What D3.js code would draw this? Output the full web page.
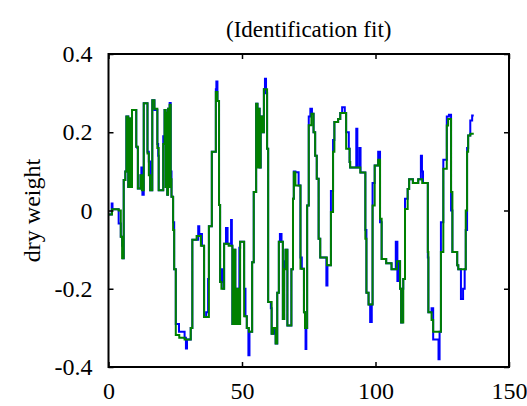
<!DOCTYPE html>
<html>
<head>
<meta charset="utf-8">
<script src="https://cdn.jsdelivr.net/npm/d3@7"></script>
<style>
  body { margin: 0; background: #fff; }
</style>
</head>
<body>
<svg id="chart" width="527" height="406"></svg>
<script>
// step breakpoints: [time, value], value holds until next time
var measured = [[0,-0.01],[1.2,0.018],[1.5,0.003],[3.8,-0.033],[4.6,-0.067],[5.1,-0.09],[5.4,-0.122],[5.7,0.078],[6.3,0.1],[6.7,0.24],[7.4,0.06],[7.8,0.235],[8.1,0.14],[8.5,0.08],[8.8,0.257],[10.4,0.163],[10.8,0.16],[11.0,0.056],[12.0,0.09],[12.3,0.11],[12.7,0.04],[13.2,0.274],[14.6,0.15],[15.1,0.125],[15.6,0.052],[16.4,0.282],[17.2,0.257],[18.3,0.17],[18.6,0.14],[18.8,0.052],[20.5,0.19],[21.0,0.257],[21.4,0.06],[21.7,0.25],[22.0,0.04],[22.3,0.26],[22.6,0.06],[22.9,0.275],[23.3,0.1],[23.6,0.035],[24.2,-0.03],[24.6,-0.15],[25.2,-0.29],[26.4,-0.31],[28.5,-0.325],[29.0,-0.353],[29.4,-0.33],[30.8,-0.30],[31.4,-0.075],[33.6,-0.04],[34.0,-0.065],[34.6,-0.06],[35.0,-0.09],[35.8,-0.272],[36.6,-0.26],[37.3,-0.175],[37.6,-0.04],[38.7,0.15],[40.2,0.31],[40.4,0.33],[40.8,0.28],[41.4,0.014],[41.8,-0.183],[42.3,-0.15],[43.0,-0.2],[43.3,-0.085],[44.0,-0.045],[44.6,-0.085],[45.9,-0.024],[46.2,-0.09],[46.4,-0.29],[47.0,-0.1],[47.5,-0.29],[48.0,-0.2],[48.6,-0.29],[49.0,-0.095],[49.3,-0.08],[50.8,-0.2],[51.3,-0.27],[51.8,-0.3],[52.4,-0.37],[52.8,-0.31],[53.8,-0.132],[54.4,0.047],[55.3,0.273],[55.8,0.23],[56.2,0.26],[56.6,0.11],[57.0,0.24],[57.5,0.2],[58.2,0.31],[58.6,0.337],[59.0,0.3],[59.4,0.158],[59.8,-0.234],[60.8,-0.25],[61.1,-0.315],[62.0,-0.3],[62.6,-0.34],[63.2,-0.21],[63.8,-0.08],[64.2,-0.06],[64.8,-0.08],[65.3,-0.277],[65.8,-0.13],[66.3,-0.1],[67.0,-0.294],[68.5,-0.15],[69.1,0.03],[69.4,0.1],[70.0,0.098],[71.2,0.064],[71.9,-0.12],[72.4,-0.149],[73.2,-0.26],[73.6,-0.3],[73.8,-0.354],[74.1,-0.3],[74.4,0.013],[75.0,0.24],[75.6,0.26],[76.2,0.247],[76.8,0.2],[77.4,0.14],[78.0,0.081],[78.7,-0.072],[79.3,-0.12],[81.6,-0.192],[82.0,-0.14],[83.3,0.05],[84.1,0.18],[84.6,0.226],[86.0,0.234],[86.8,0.249],[87.5,0.264],[88.5,0.249],[89.0,0.2],[90.0,0.158],[90.3,0.124],[90.5,0.11],[92.8,0.209],[93.2,0.11],[94.0,0.16],[94.4,0.097],[96.2,-0.05],[96.6,-0.21],[97.4,-0.24],[98.0,-0.285],[98.6,-0.24],[98.9,0.07],[99.7,0.115],[101.0,0.15],[101.7,-0.03],[102.3,-0.124],[104,-0.135],[106,-0.15],[107.6,-0.08],[108.2,-0.18],[108.7,-0.13],[109.2,-0.2],[109.6,-0.286],[110.1,-0.2],[110.4,-0.175],[111.05,0.03],[112.05,0.055],[112.6,0.08],[114,0.07],[116,0.08],[117,0.14],[117.4,0.1],[117.8,0.07],[119.6,-0.12],[119.8,-0.26],[121.0,-0.25],[121.6,-0.33],[123.6,-0.38],[124.0,-0.31],[124.5,-0.03],[125.4,0.13],[126.7,0.24],[127.5,0.245],[128.3,0.0],[128.8,-0.106],[130.6,-0.14],[131.0,-0.15],[132.0,-0.226],[132.8,-0.2],[133.4,-0.15],[133.8,-0.05],[134.3,0.16],[134.7,0.192],[135.5,0.23],[136.2,0.243],[136.8,0.243]];

var fitted = [[0,-0.01],[1.3,0.003],[3.8,0.0],[4.6,-0.067],[5.1,-0.122],[5.7,0.078],[6.3,0.1],[6.7,0.24],[7.4,0.06],[7.8,0.235],[8.2,0.06],[8.8,0.257],[10.4,0.163],[11.0,0.056],[12.0,0.09],[12.5,0.052],[13.2,0.274],[14.6,0.146],[15.1,0.09],[15.6,0.052],[16.4,0.282],[17.2,0.26],[18.3,0.16],[18.8,0.052],[20.5,0.17],[21.0,0.257],[21.4,0.06],[21.7,0.25],[22.0,0.04],[22.3,0.26],[22.6,0.06],[22.9,0.27],[23.3,0.08],[23.6,0.035],[24.2,-0.05],[24.6,-0.15],[25.2,-0.318],[26.5,-0.325],[28.5,-0.33],[30.8,-0.30],[31.4,-0.075],[33,-0.065],[34.6,-0.09],[35.8,-0.272],[37.6,-0.04],[38.7,0.15],[40.2,0.303],[40.8,0.28],[41.4,0.014],[41.8,-0.183],[42.3,-0.2],[43.3,-0.085],[45.0,-0.09],[46.4,-0.29],[47.0,-0.1],[47.5,-0.29],[48.0,-0.2],[48.6,-0.29],[49.3,-0.08],[50.8,-0.27],[51.8,-0.3],[52.6,-0.31],[53.8,-0.132],[54.4,0.047],[55.3,0.273],[55.8,0.11],[56.2,0.26],[56.6,0.11],[57.0,0.24],[57.5,0.2],[58.2,0.31],[59.4,0.158],[59.8,-0.234],[61.1,-0.315],[61.6,-0.3],[62.6,-0.34],[63.2,-0.21],[63.8,-0.08],[65.3,-0.277],[65.8,-0.15],[66.3,-0.1],[67.0,-0.294],[68.5,-0.15],[69.1,0.03],[69.4,0.098],[70.0,0.064],[71.9,-0.149],[73.2,-0.26],[73.6,-0.3],[74.4,0.013],[75.0,0.218],[76.0,0.247],[76.8,0.2],[77.4,0.14],[78.0,0.081],[78.7,-0.072],[79.3,-0.12],[81.8,-0.14],[83.3,-0.004],[84.1,0.15],[84.6,0.226],[86.0,0.234],[86.8,0.249],[89.0,0.158],[90.3,0.124],[90.5,0.11],[94.3,0.097],[96.2,-0.072],[96.6,-0.21],[97.4,-0.24],[98.9,0.013],[99.7,0.115],[101.0,0.13],[101.7,-0.021],[102.3,-0.124],[104,-0.135],[106,-0.15],[108,-0.13],[109.2,-0.2],[109.6,-0.286],[110.4,-0.175],[111.05,0.004],[112.05,0.055],[112.6,0.08],[114,0.07],[116,0.08],[117.5,0.07],[119.6,-0.106],[119.8,-0.26],[121.0,-0.28],[121.6,-0.31],[124.5,-0.106],[125.4,0.107],[126.7,0.217],[127.2,0.234],[128.3,0.047],[128.8,-0.106],[130.6,-0.14],[131.0,-0.15],[133.4,-0.15],[133.8,0.0],[134.3,0.15],[134.7,0.192],[135.5,0.196],[136.8,0.196]];

var xTicks = [0, 50, 100, 150];
var yTicks = [-0.4, -0.2, 0, 0.2, 0.4];
var yTickLabels = ["-0.4", "-0.2", "0", "0.2", "0.4"];

var serif = '"Liberation Serif", "DejaVu Serif", serif';
var margin = { top: 54, right: 18, bottom: 39, left: 108.5 };
var width = 527, height = 406;
var svg = d3.select("#chart");

var x = d3.scaleLinear().domain([0, 150]).range([margin.left, width - margin.right]);
var y = d3.scaleLinear().domain([-0.4, 0.4]).range([height - margin.bottom, margin.top]);

var line = d3.line()
    .curve(d3.curveStepAfter)
    .x(function (d) { return x(d[0]); })
    .y(function (d) { return y(d[1]); });

svg.append("path").attr("d", line(measured))
    .attr("fill", "none").attr("stroke", "#0000ff").attr("stroke-width", 2);
svg.append("path").attr("d", line(fitted))
    .attr("fill", "none").attr("stroke", "#008000").attr("stroke-width", 2);

// axes with inward ticks, mirrored on top and right
var tickLen = 5;
svg.append("g").attr("transform", "translate(0," + y(-0.4) + ")")
    .call(d3.axisBottom(x).tickValues(xTicks).tickSizeInner(-tickLen).tickSizeOuter(0).tickPadding(15));
svg.append("g").attr("transform", "translate(0," + y(0.4) + ")")
    .call(d3.axisTop(x).tickValues(xTicks).tickSizeInner(-tickLen).tickSizeOuter(0).tickFormat(""));
svg.append("g").attr("transform", "translate(" + x(0) + ",0)")
    .call(d3.axisLeft(y).tickValues(yTicks).tickSizeInner(-tickLen).tickSizeOuter(0).tickPadding(16)
        .tickFormat(function (d, i) { return yTickLabels[i]; }));
svg.append("g").attr("transform", "translate(" + x(150) + ",0)")
    .call(d3.axisRight(y).tickValues(yTicks).tickSizeInner(-tickLen).tickSizeOuter(0).tickFormat(""));

svg.selectAll(".domain").remove();
svg.selectAll(".tick line").attr("stroke", "#000").attr("stroke-width", 1.5);
svg.selectAll(".tick text")
    .style("font-family", serif).style("font-size", "24px").attr("fill", "#000");

svg.append("rect")
    .attr("x", x(0)).attr("y", y(0.4))
    .attr("width", x(150) - x(0)).attr("height", y(-0.4) - y(0.4))
    .attr("fill", "none").attr("stroke", "#000").attr("stroke-width", 2);

svg.append("text")
    .attr("x", (x(0) + x(150)) / 2).attr("y", 37)
    .attr("text-anchor", "middle")
    .style("font-family", serif).style("font-size", "23px")
    .text("(Identification fit)");

svg.append("text")
    .attr("transform", "translate(40," + y(0) + ") rotate(-90)")
    .attr("text-anchor", "middle")
    .style("font-family", serif).style("font-size", "24px")
    .text("dry weight");
</script>
</body>
</html>
